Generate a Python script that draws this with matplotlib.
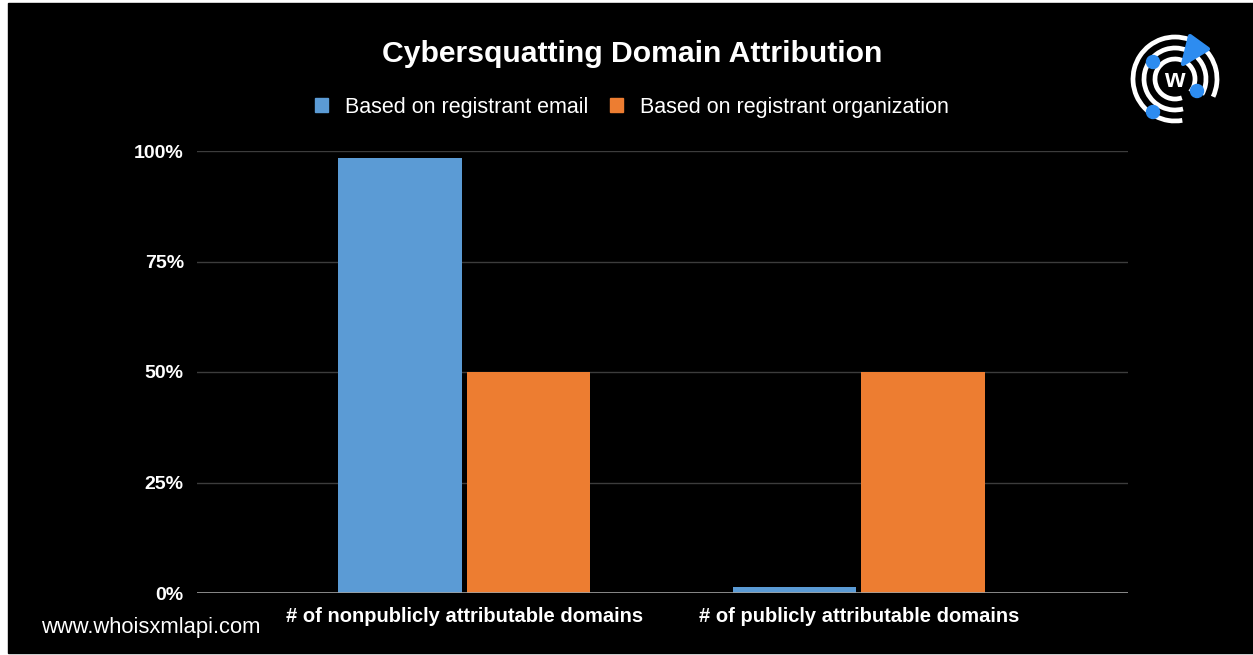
import numpy as np
import matplotlib
matplotlib.use('Agg')
import matplotlib.pyplot as plt
from matplotlib.patches import Rectangle, Arc, Circle, Polygon, Patch

plt.rcParams['font.family'] = ['Liberation Sans', 'DejaVu Sans']

# data
categories = ['# of nonpublicly attributable domains', '# of publicly attributable domains']
series_names = ['Based on registrant email', 'Based on registrant organization']
email_vals = [0.985, 0.014]
org_vals = [0.50, 0.50]
colors = ['#5b9bd5', '#ed7d31']
ytick_vals = [0, 0.25, 0.5, 0.75, 1.0]
ytick_labels = ['0%', '25%', '50%', '75%', '100%']

W, H = 1253, 655
fig = plt.figure(figsize=(W / 100, H / 100), dpi=100, facecolor='white')

# background / frame (pixel coordinates)
bg = fig.add_axes([0, 0, 1, 1])
bg.set_xlim(0, W)
bg.set_ylim(H, 0)
bg.axis('off')
bg.add_patch(Rectangle((8, 3), W - 8, 650, color='black', zorder=0))

# logo
cx, cy = 1175, 79
bg.add_patch(Arc((cx, cy), 84, 84, theta1=80, theta2=385, color='white', lw=3.4))
bg.add_patch(Arc((cx, cy), 62, 62, theta1=75, theta2=390, color='white', lw=3.4))
bg.add_patch(Arc((cx, cy), 40, 40, theta1=70, theta2=400, color='white', lw=3.4))
bg.text(cx - 1, cy + 1, 'w', color='white', fontsize=19, fontweight='bold', ha='center', va='center')
for (dx, dy) in [(1153, 62), (1197, 91), (1153, 112)]:
    bg.add_patch(Circle((dx, dy), 6.5, color='#2d8cf0', zorder=3))
bg.add_patch(Polygon([[1190, 36], [1208, 49], [1183, 64]], closed=True, color='#2d8cf0',
                     joinstyle='round', lw=3, zorder=3))

# main axes
left, right, top, bottom = 197, 1128, 151, 593
ax = fig.add_axes([left / W, 1 - bottom / H, (right - left) / W, (bottom - top) / H])
ax.set_facecolor('none')

x = np.arange(len(categories))
w = 0.314
ax.bar(x - 0.163, email_vals, w, color=colors[0], zorder=3)
ax.bar(x + 0.163, org_vals, w, color=colors[1], zorder=3)

ax.set_xlim(-0.677, 1.682)
ax.set_ylim(0, 1.0)
ax.set_yticks(ytick_vals)
ax.set_yticklabels(ytick_labels, color='white', fontsize=14, fontweight='bold')
ax.set_xticks(x)
ax.set_xticklabels(categories, color='white', fontsize=14.5, fontweight='bold')
ax.tick_params(axis='y', length=0, pad=9.5)
ax.tick_params(axis='x', length=0, pad=10)
for s in ax.spines.values():
    s.set_visible(False)
for yv in ytick_vals[1:]:
    ax.axhline(yv, color='#3c3c3c', lw=1, zorder=1)
ax.axhline(0, color='#a0a0a0', lw=1.2, zorder=4)

# title and legend
fig.text(632 / W, 1 - 54 / H, 'Cybersquatting Domain Attribution', color='white',
         fontsize=21.7, fontweight='bold', ha='center', va='center')
handles = [Patch(color=colors[0]), Patch(color=colors[1])]
fig.legend(handles, series_names, loc='center', bbox_to_anchor=(632 / W, 1 - 107 / H),
           ncol=2, frameon=False, labelcolor='white', fontsize=15.5,
           handlelength=0.6, handleheight=0.6, handletextpad=0.8, columnspacing=1.0)

fig.text(41 / W, 1 - 627 / H, 'www.whoisxmlapi.com', color='white', fontsize=15.8,
         ha='left', va='center')

fig.savefig('out.png', dpi=100, facecolor=fig.get_facecolor())
